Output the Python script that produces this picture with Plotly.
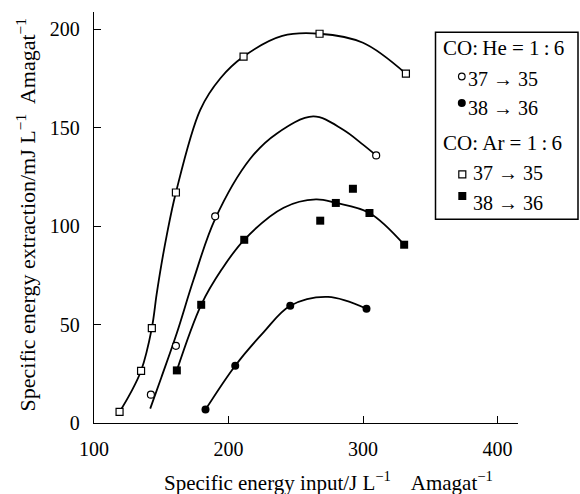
import plotly.graph_objects as go

# ---- data ----
he37_x = [142.3, 160.9, 190.1, 309.8]
he37_y = [14.4, 39.2, 104.9, 135.8]
he38_x = [182.9, 205.0, 245.9, 302.6]
he38_y = [6.8, 29.1, 59.5, 58.0]
ar37_x = [119.0, 135.0, 143.0, 160.9, 211.2, 267.7, 331.9]
ar37_y = [5.6, 26.5, 48.2, 117.0, 186.0, 197.6, 177.3]
ar38_x = [161.6, 179.7, 211.7, 268.2, 279.8, 292.5, 304.8, 330.6]
ar38_y = [26.7, 60.0, 93.0, 102.7, 111.7, 118.9, 106.6, 90.5]

# hand-drawn guide curves (knots)
he37_fit_x = [141.8, 150, 161.6, 174, 190, 216, 236, 263, 285, 300, 309.8]
he37_fit_y = [7.3, 23, 45.7, 72.7, 103.5, 134, 147, 155.6, 149, 141.3, 135.8]
he38_fit_x = [182.9, 205.0, 226, 245.9, 274, 302.6]
he38_fit_y = [6.8, 29.1, 46, 59.5, 64, 58.0]
ar37_fit_x = [119.0, 127, 135.0, 143.0, 146.5, 150, 154, 160.9, 179, 194, 211.2, 240, 267.7, 300, 331.9]
ar37_fit_y = [5.6, 15, 26.5, 48.2, 65, 80, 95, 117.0, 159, 175, 186.0, 196.5, 197.6, 193, 177.3]
ar38_fit_x = [161.6, 179.7, 195, 211.7, 241, 265, 279.8, 304.8, 330.6]
ar38_fit_y = [26.7, 60.0, 78, 93.0, 109.3, 113.5, 111.7, 106.6, 90.5]

x_ticks = [100, 200, 300, 400]
y_ticks = [0, 50, 100, 150, 200]

FONT = "Liberation Serif, Times New Roman, serif"
L, R, T, B = 94, 62, 12, 71
W, H = 580, 494
PW, PH = W - L - R, H - T - B


def pxx(xp):
    return (xp - L) / PW


def pxy(yp):
    return (H - B - yp) / PH


fig = go.Figure()
for fx, fy in [(he37_fit_x, he37_fit_y), (he38_fit_x, he38_fit_y),
               (ar37_fit_x, ar37_fit_y), (ar38_fit_x, ar38_fit_y)]:
    fig.add_trace(go.Scatter(x=fx, y=fy, mode="lines",
                             line=dict(color="black", width=1.8, shape="spline", smoothing=1.0),
                             hoverinfo="skip", showlegend=False))

fig.add_trace(go.Scatter(x=he37_x, y=he37_y, mode="markers", showlegend=False,
                         marker=dict(symbol="circle", size=7, color="white",
                                     line=dict(color="black", width=1.2))))
fig.add_trace(go.Scatter(x=he38_x, y=he38_y, mode="markers", showlegend=False,
                         marker=dict(symbol="circle", size=8, color="black",
                                     line=dict(color="black", width=0))))
fig.add_trace(go.Scatter(x=ar37_x, y=ar37_y, mode="markers", showlegend=False,
                         marker=dict(symbol="square", size=7, color="white",
                                     line=dict(color="black", width=1.2))))
fig.add_trace(go.Scatter(x=ar38_x, y=ar38_y, mode="markers", showlegend=False,
                         marker=dict(symbol="square", size=8, color="black",
                                     line=dict(color="black", width=0))))

axis_common = dict(showline=True, linecolor="black", linewidth=1.3, ticks="inside",
                   ticklen=7, tickwidth=1.3, tickcolor="black", showgrid=False,
                   zeroline=False, tickfont=dict(family=FONT, size=20, color="black"))
fig.update_xaxes(range=[100, 100 + PW / 1.345], tickvals=x_ticks, ticklabelstandoff=8, **axis_common)
fig.update_yaxes(range=[0, PH / 1.97], tickvals=y_ticks, ticklabelstandoff=9, **axis_common)

ann = []
ann.append(dict(text="Specific energy input/J L<sup>−1</sup>\u00a0\u00a0\u00a0 Amagat<sup>−1</sup>",
                x=pxx(328.7), y=pxy(481), xref="paper", yref="paper", showarrow=False,
                xanchor="center", yanchor="middle", font=dict(family=FONT, size=21, color="black")))
ann.append(dict(text="Specific energy extraction/mJ L<sup>−1</sup>\u00a0 Amagat<sup>−1</sup>",
                x=pxx(25), y=pxy(215.5), xref="paper", yref="paper", showarrow=False, textangle=-90,
                xanchor="center", yanchor="middle", font=dict(family=FONT, size=22, color="black")))

legend_rows = [
    ("CO:\u2009He = 1\u2009:\u20096", 440.5, 48.5, 21),
    ("37 → 35", 465.5, 79.0, 20),
    ("38 → 36", 465.5, 108.3, 20),
    ("CO:\u2009Ar = 1\u2009:\u20096", 440.5, 143.3, 21),
    ("37 → 35", 470.5, 173.3, 20),
    ("38 → 36", 470.5, 203.0, 20),
]
for txt, xp, yp, sz in legend_rows:
    ann.append(dict(text=txt, x=pxx(xp), y=pxy(yp), xref="paper", yref="paper", showarrow=False,
                    xanchor="left", yanchor="middle", font=dict(family=FONT, size=sz, color="black")))

shapes = [dict(type="rect", xref="paper", yref="paper", x0=pxx(435.5), x1=pxx(578),
               y0=pxy(32.3), y1=pxy(219.3), line=dict(color="black", width=1.5))]
legend_marks = [
    ("circle", 461.8, 76.5, 3.3, "white"),
    ("circle", 461.8, 103.0, 4.0, "black"),
    ("rect", 462.3, 174.3, 3.5, "white"),
    ("rect", 462.3, 196.0, 4.0, "black"),
]
for kind, xp, yp, r, fill in legend_marks:
    shapes.append(dict(type=kind, xref="paper", yref="paper", xsizemode="pixel", ysizemode="pixel",
                       xanchor=pxx(xp), yanchor=pxy(yp), x0=-r, x1=r, y0=-r, y1=r,
                       fillcolor=fill, line=dict(color="black", width=1.2 if fill == "white" else 0)))

fig.update_layout(width=W, height=H, margin=dict(l=L, r=R, t=T, b=B),
                  paper_bgcolor="white", plot_bgcolor="white",
                  font=dict(family=FONT, color="black"),
                  annotations=ann, shapes=shapes, showlegend=False)

fig.write_html("out.html")
